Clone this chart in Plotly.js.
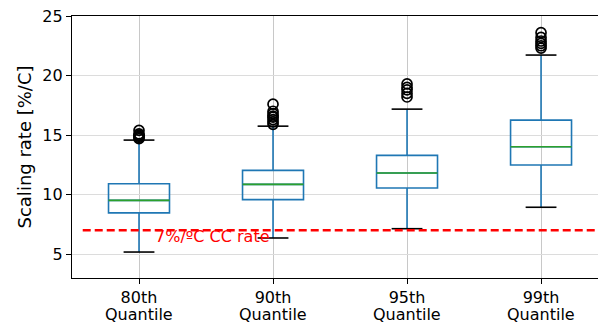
<!DOCTYPE html>
<html>
<head>
<meta charset="utf-8">
<script src="https://cdn.plot.ly/plotly-3.0.1.min.js"></script>
<style>
  html, body { margin: 0; padding: 0; background: #fff; }
  #chart { width: 598px; height: 325px; }
</style>
</head>
<body>
<div id="chart"></div>
<script>
// Scaling-rate distributions per precipitation quantile
const categories = ['80th', '90th', '95th', '99th'];
const categorySuffix = 'Quantile';
const positions  = [1, 2, 3, 4];

const lowerWhisker = [5.18, 6.36, 7.14, 8.94];
const q1           = [8.47, 9.58, 10.56, 12.49];
const medians      = [9.52, 10.86, 11.82, 14.02];
const q3           = [10.92, 12.04, 13.30, 16.26];
const upperWhisker = [14.58, 15.75, 17.18, 21.72];

const outliers = [
  [14.7, 14.8, 14.9, 15.0, 15.1, 15.4],
  [15.9, 16.1, 16.3, 16.5, 16.6, 16.8, 17.0, 17.6],
  [18.2, 18.5, 18.8, 19.0, 19.3],
  [22.3, 22.5, 22.7, 22.9, 23.2, 23.6]
];

const ccRate = 7;
const ccLabel = '7%/ºC CC rate';

const boxWidth = 0.455;
const capWidth = 0.23;

const FONT = 'DejaVu Sans, sans-serif';

// helper: horizontal segments centred on each box position
function segments(values, width) {
  const xs = [], ys = [];
  positions.forEach((p, i) => {
    xs.push(p - width / 2, p + width / 2, null);
    ys.push(values[i], values[i], null);
  });
  return { x: xs, y: ys };
}

const traces = [];

traces.push({
  type: 'box',
  x: positions,
  q1: q1,
  median: medians,
  q3: q3,
  lowerfence: lowerWhisker,
  upperfence: upperWhisker,
  width: boxWidth,
  whiskerwidth: 0,
  line: { color: '#1f77b4', width: 1.6 },
  fillcolor: 'rgba(0,0,0,0)',
  boxpoints: false,
  hoverinfo: 'skip',
  showlegend: false
});

// green median lines
const med = segments(medians, boxWidth);
traces.push({
  type: 'scatter', mode: 'lines', x: med.x, y: med.y,
  line: { color: '#2ca02c', width: 1.6 }, hoverinfo: 'skip', showlegend: false
});

// black whisker caps
const lowCaps = segments(lowerWhisker, capWidth);
const highCaps = segments(upperWhisker, capWidth);
traces.push({
  type: 'scatter', mode: 'lines',
  x: lowCaps.x.concat(highCaps.x), y: lowCaps.y.concat(highCaps.y),
  line: { color: '#000', width: 1.6 }, hoverinfo: 'skip', showlegend: false
});

// outlier fliers
const fx = [], fy = [];
outliers.forEach((vals, i) => vals.forEach(v => { fx.push(positions[i]); fy.push(v); }));
traces.push({
  type: 'scatter', mode: 'markers', x: fx, y: fy,
  marker: { symbol: 'circle-open', size: 10, color: '#000', line: { width: 1.7, color: '#000' } },
  hoverinfo: 'skip', showlegend: false
});

// Clausius-Clapeyron reference line
traces.push({
  type: 'scatter', mode: 'lines', x: [0.58, 4.6], y: [ccRate, ccRate],
  line: { color: '#ff0000', width: 2.5, dash: '8px,4px' },
  hoverinfo: 'skip', showlegend: false
});

// second line of each category label, set tighter than Plotly's <br> spacing
const suffixNotes = positions.map(p => ({
  x: p, y: 0, xref: 'x', yref: 'paper',
  text: categorySuffix, showarrow: false,
  xanchor: 'center', yanchor: 'top', yshift: -25,
  font: { family: FONT, size: 16, color: '#000' }
}));

const layout = {
  width: 598, height: 325,
  margin: { l: 72, r: 0, t: 16, b: 47 },
  paper_bgcolor: '#fff', plot_bgcolor: '#fff',
  font: { family: FONT, size: 16, color: '#000' },
  showlegend: false,
  xaxis: {
    range: [0.5, 4.425],
    tickmode: 'array', tickvals: positions, ticktext: categories,
    showgrid: true, gridcolor: '#c8c8c8', gridwidth: 1,
    zeroline: false,
    showline: true, linecolor: '#000', linewidth: 1.2, mirror: true,
    ticks: 'outside', ticklen: 5, tickcolor: '#000', tickwidth: 1,
    tickfont: { family: FONT, size: 16, color: '#000' }
  },
  yaxis: {
    range: [3, 25],
    tickmode: 'array', tickvals: [5, 10, 15, 20, 25],
    showgrid: true, gridcolor: '#dcdcdc', gridwidth: 1,
    zeroline: false,
    showline: true, linecolor: '#000', linewidth: 1.2,
    ticks: 'outside', ticklen: 5, tickcolor: '#000', tickwidth: 1,
    tickfont: { family: FONT, size: 16, color: '#000' },
    title: { text: 'Scaling rate [%/C]', font: { family: FONT, size: 18, color: '#000' }, standoff: 6 }
  },
  annotations: [{
    x: 1.104, y: 6.45, xref: 'x', yref: 'y',
    text: ccLabel, showarrow: false,
    xanchor: 'left', yanchor: 'middle',
    font: { family: FONT, size: 16, color: '#ff0000' }
  }].concat(suffixNotes)
};

Plotly.newPlot('chart', traces, layout, { displayModeBar: false, staticPlot: true });
</script>
</body>
</html>
